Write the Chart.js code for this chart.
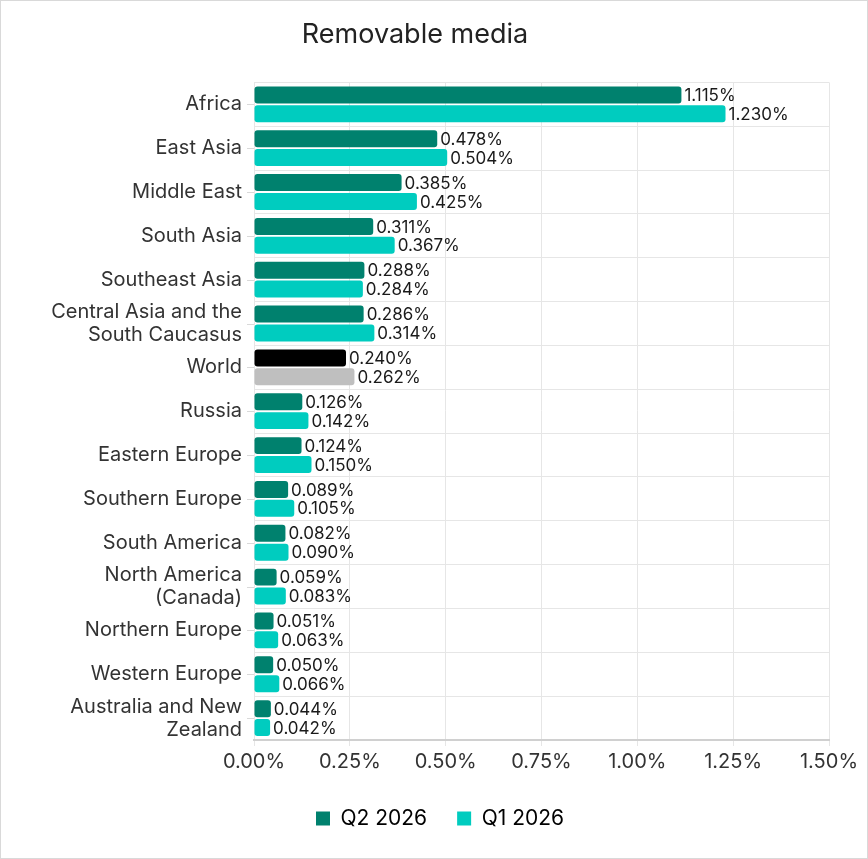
<!DOCTYPE html>
<html>
<head>
<meta charset="utf-8">
<script src="https://cdn.jsdelivr.net/npm/chart.js@4"></script>
<style>
    body { margin: 0; background: #fff; }
    #wrap { width: 866px; height: 857px; border: 1px solid #d9d9d9; }
</style>
</head>
<body>
<div id="wrap"><canvas id="media-chart" width="866" height="857"></canvas></div>
<script>
// Chart data
let regions = [
    "Africa", "East Asia", "Middle East", "South Asia", "Southeast Asia",
    ["Central Asia and the", "South Caucasus"], "World", "Russia", "Eastern Europe",
    "Southern Europe", "South America", ["North America", "(Canada)"], "Northern Europe",
    "Western Europe", ["Australia and New", "Zealand"]
];
let q2Values = [1.115, 0.478, 0.385, 0.311, 0.288, 0.286, 0.240, 0.126, 0.124, 0.089, 0.082, 0.059, 0.051, 0.050, 0.044];
let q1Values = [1.230, 0.504, 0.425, 0.367, 0.284, 0.314, 0.262, 0.142, 0.150, 0.105, 0.090, 0.083, 0.063, 0.066, 0.042];
let seriesNames = ["Q2 2026", "Q1 2026"];
let xTicks = [0, 0.25, 0.5, 0.75, 1, 1.25, 1.5];

const FONT = "Inter, 'DejaVu Sans', sans-serif";
const DARK = '#00816e';
const LIGHT = '#00ccbf';

// Function to colour the World row differently
function colorsFor(base, worldColor) {
    return regions.map(r => r === "World" ? worldColor : base);
}

// Plugin: value labels at the end of each bar
const valueLabels = {
    id: 'valueLabels',
    afterDatasetsDraw(chart) {
        const ctx = chart.ctx;
        ctx.save();
        ctx.font = '17px ' + FONT;
        ctx.fillStyle = '#1a1a1a';
        ctx.textBaseline = 'middle';
        chart.data.datasets.forEach((ds, i) => {
            chart.getDatasetMeta(i).data.forEach((bar, j) => {
                ctx.fillText(ds.data[j].toFixed(3) + '%', bar.x + 3, bar.y + 1);
            });
        });
        ctx.restore();
    }
};

// Plugin: small tick marks at the centre of each category
const centerTicks = {
    id: 'centerTicks',
    afterDraw(chart) {
        const y = chart.scales.y;
        const ctx = chart.ctx;
        ctx.save();
        ctx.strokeStyle = '#d9d9d9';
        ctx.lineWidth = 1;
        regions.forEach((r, i) => {
            const py = Math.round(y.getPixelForValue(i)) + 0.5;
            ctx.beginPath();
            ctx.moveTo(y.right - 7, py);
            ctx.lineTo(y.right, py);
            ctx.stroke();
        });
        ctx.restore();
    }
};

// Plugin: nudge the legend to the right, like the original
const legendShift = {
    id: 'legendShift',
    afterLayout(chart) {
        chart.legend.left += 25;
        chart.legend.right += 25;
    }
};

new Chart(document.getElementById('media-chart'), {
    type: 'bar',
    data: {
        labels: regions,
        datasets: [{
            label: seriesNames[0],
            data: q2Values,
            backgroundColor: colorsFor(DARK, '#000000'),
            borderRadius: 3,
            borderSkipped: false
        }, {
            label: seriesNames[1],
            data: q1Values,
            backgroundColor: colorsFor(LIGHT, '#bfbfbf'),
            borderRadius: 3,
            borderSkipped: false
        }]
    },
    options: {
        indexAxis: 'y',
        responsive: false,
        animation: false,
        devicePixelRatio: 1,
        barPercentage: 0.9,
        categoryPercentage: 0.86,
        layout: { padding: { left: 0, right: 38, top: 14, bottom: 19 } },
        scales: {
            x: {
                min: 0,
                max: 1.5,
                afterBuildTicks: axis => { axis.ticks = xTicks.map(v => ({ value: v })); },
                ticks: {
                    callback: v => v.toFixed(2) + '%',
                    font: { family: FONT, size: 20 },
                    color: '#333',
                    maxRotation: 0,
                    padding: 4
                },
                grid: { color: '#e6e6e6', tickLength: 6 },
                border: { color: '#d0d0d0', width: 2 }
            },
            y: {
                afterFit: axis => { axis.width = 253; },
                ticks: {
                    autoSkip: false,
                    font: { family: FONT, size: 20, lineHeight: 1.15 },
                    color: '#333',
                    padding: 12
                },
                grid: { color: '#e6e6e6', drawTicks: false },
                border: { display: false }
            }
        },
        plugins: {
            title: {
                display: true,
                text: 'Removable media',
                font: { family: FONT, size: 27, weight: 'normal' },
                color: '#222',
                padding: { top: 4, bottom: 31 }
            },
            legend: {
                position: 'bottom',
                labels: {
                    generateLabels: () => seriesNames.map((n, i) => ({
                        text: n,
                        fillStyle: i === 0 ? DARK : LIGHT,
                        strokeStyle: i === 0 ? DARK : LIGHT,
                        lineWidth: 0,
                        datasetIndex: i
                    })),
                    boxWidth: 14,
                    boxHeight: 14,
                    padding: 30,
                    font: { family: FONT, size: 21 },
                    color: '#333'
                }
            },
            tooltip: { enabled: false }
        }
    },
    plugins: [valueLabels, centerTicks, legendShift]
});
</script>
</body>
</html>
